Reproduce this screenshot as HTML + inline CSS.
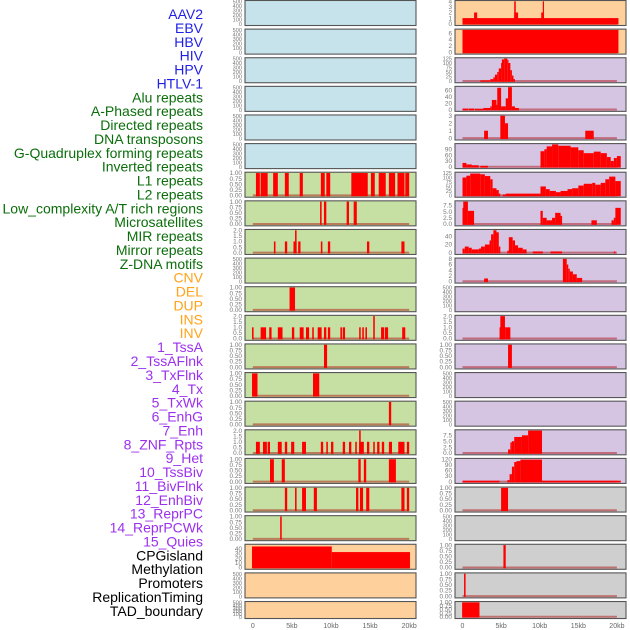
<!DOCTYPE html>
<html><head><meta charset="utf-8"><style>
body{margin:0;background:#fff;width:630px;height:630px;overflow:hidden}
svg{display:block}
</style></head><body>
<svg id="chart" width="630" height="630" xmlns="http://www.w3.org/2000/svg" font-family="Liberation Sans, sans-serif"></svg>
<script>
const labelNames=["AAV2","EBV","HBV","HIV","HPV","HTLV-1","Alu repeats","A-Phased repeats","Directed repeats","DNA transposons","G-Quadruplex forming repeats","Inverted repeats","L1 repeats","L2 repeats","Low_complexity A/T rich regions","Microsatellites","MIR repeats","Mirror repeats","Z-DNA motifs","CNV","DEL","DUP","INS","INV","1_TssA","2_TssAFlnk","3_TxFlnk","4_Tx","5_TxWk","6_EnhG","7_Enh","8_ZNF_Rpts","9_Het","10_TssBiv","11_BivFlnk","12_EnhBiv","13_ReprPC","14_ReprPCWk","15_Quies","CPGisland","Methylation","Promoters","ReplicationTiming","TAD_boundary"];
const labelGroups=["v","v","v","v","v","v","r","r","r","r","r","r","r","r","r","r","r","r","r","s","s","s","s","s","c","c","c","c","c","c","c","c","c","c","c","c","c","c","c","o","o","o","o","o"];
const xTickValues=[0,5,10,15,20];
const xTickLabels=["0","5kb","10kb","15kb","20kb"];
// segments: [startKb, endKb, value]
const L6=[[0.4,0.9,1],[1.0,1.9,1],[2.6,3.2,1],[4.1,4.6,1],[6.0,6.4,1],[8.7,9.2,1],[9.4,9.9,1],[12.6,14.7,1],[15.1,15.6,1],[16.1,17.0,1],[17.4,18.2,1],[18.5,19.4,1],[19.5,20.0,1]];
const L7=[[8.6,8.8,1],[9.1,9.4,1],[12.0,12.3,1],[12.9,13.3,1]];
const L8=[[2.7,2.9,1],[4.1,4.4,1],[5.2,5.6,1],[5.4,5.6,2],[5.8,6.1,1],[8.7,8.9,1],[9.6,9.9,1],[14.6,14.9,1],[19.0,19.4,1]];
const L10=[[4.7,5.4,1]];
const L11=[[-0.1,0.1,1],[1.0,1.7,1],[2.1,2.4,1],[3.2,3.8,1],[5.0,5.3,1],[6.0,6.5,1],[6.8,7.2,1],[7.6,7.8,1],[8.3,8.8,1],[9.1,9.4,1],[9.6,9.9,1],[11.2,11.4,1],[11.5,11.8,1],[13.6,13.8,1],[14.0,14.2,1],[14.4,14.6,1],[15.4,15.6,2],[16.4,16.8,1],[16.9,17.3,1],[19.1,19.5,1]];
const L12=[[9.1,9.5,1]];
const L13=[[-0.1,0.6,1],[7.7,8.5,1]];
const L14=[[17.4,17.7,1]];
const L15=[[0.4,0.9,1],[1.3,1.8,1],[1.9,2.2,1],[3.2,3.7,1],[4.1,4.4,1],[4.9,5.3,1],[6.3,6.8,1],[8.7,9.0,1],[9.4,9.6,1],[10.0,10.3,1],[11.5,11.8,1],[12.3,12.6,1],[13.1,13.3,1],[13.6,14.2,1],[13.6,13.8,2],[14.6,14.9,1],[15.4,15.6,1],[15.9,16.2,1],[16.5,16.8,1],[17.4,17.8,1],[18.6,19.4,1],[19.7,20.0,1]];
const L16=[[2.2,2.7,1],[3.7,4.1,1],[13.5,13.8,1],[14.2,14.5,1],[17.4,18.3,1]];
const L17=[[4.1,4.4,1],[5.4,5.6,1],[6.3,6.8,1],[7.8,8.2,1],[13.2,13.5,1],[13.7,14.1,1],[14.5,14.9,1],[19.0,19.4,1],[19.7,20.0,1]];
const L18=[[3.5,3.7,1]];
const L19=[[-0.1,10.1,45],[10.1,20.1,33]];
const R0=[[0,20.2,1],[1.5,1.9,2],[6.7,7.2,2],[6.7,6.9,4],[10.2,10.5,2],[10.4,10.5,4]];
const R1=[[0,20.2,7]];
const R2=[[2.3,3.6,3],[3.6,4.0,10],[4.0,4.2,20],[4.2,4.5,35],[4.5,4.7,50],[4.7,5.0,70],[5.0,5.1,100],[5.1,5.4,120],[5.4,5.8,125],[5.8,5.9,118],[5.9,6.2,100],[6.2,6.4,60],[6.4,6.6,30],[6.6,6.8,10]];
const R3=[[0,0.7,3],[0.8,1.5,3],[1.6,2.7,2],[2.7,3.6,5],[3.6,3.8,10],[3.8,4.4,30],[4.4,4.5,15],[4.5,5.0,68],[5.0,5.6,10],[5.6,5.9,35],[5.9,6.4,70],[6.4,6.8,10],[6.8,7.3,5]];
const R4=[[2.8,3.3,1],[4.9,5.5,3],[5.5,5.9,2],[15.9,17.0,1]];
const R5=[[0,0.5,20],[0.5,1.2,12],[1.2,2.1,8],[2.3,3.3,5],[10.1,10.6,80],[10.6,10.9,90],[10.9,11.6,105],[11.6,12.4,115],[12.4,14.0,108],[14.0,15.0,100],[15.0,15.7,85],[15.7,17.0,70],[17.0,17.9,78],[17.9,18.7,70],[18.7,19.2,50],[19.2,19.6,30],[19.6,20.0,45],[20.0,20.5,55]];
const R6=[[0,0.5,100],[0.5,1.0,110],[1.0,2.3,122],[2.3,2.9,118],[2.9,3.6,108],[3.6,3.9,90],[3.9,4.4,40],[4.4,4.7,30],[4.7,4.9,10],[5.2,5.6,5],[5.6,10.1,10],[10.1,10.8,50],[10.8,11.3,35],[11.3,12.1,25],[12.1,12.7,18],[12.7,13.6,25],[13.6,14.2,35],[14.2,15.0,40],[15.0,15.7,55],[15.7,16.8,65],[16.8,17.2,70],[17.2,17.9,60],[17.9,18.5,70],[18.5,19.0,90],[19.0,19.8,105],[19.8,20.5,80]];
const R7=[[0,0.1,6.5],[0.1,0.7,9],[0.7,1.5,5.3],[10.1,10.4,5.3],[10.4,10.9,2.5],[10.9,11.6,1.5],[11.6,12.0,2.5],[12.0,12.7,4.5],[12.7,12.9,3.3],[16.7,17.4,1.5],[19.3,19.6,1.5],[19.6,19.8,2.5],[19.8,20.5,6.5]];
const R8=[[0,0.3,10],[0.3,0.8,15],[0.8,1.2,12],[1.2,2.1,8],[2.1,2.4,10],[2.4,2.9,15],[2.9,3.5,20],[3.5,3.7,30],[3.7,4.0,45],[4.0,4.4,55],[4.4,4.7,50],[4.7,4.9,15],[5.8,6.0,5],[6.0,6.5,38],[6.5,6.8,30],[6.8,7.2,18],[7.2,7.8,12],[7.8,8.3,8],[9.1,10.4,3],[11.4,12.9,3],[19.6,19.8,3]];
const R9=[[2.8,3.3,1],[13.0,13.5,8],[13.5,13.7,6],[13.7,13.9,4.5],[13.9,14.3,3.5],[14.3,14.8,2.5],[14.8,15.5,1.2]];
const R11=[[4.8,5.6,1],[4.9,5.5,2],[5.6,6.2,1]];
const R12=[[5.9,6.4,1]];
const R15=[[5.9,6.2,1.5],[6.2,6.4,4.5],[6.4,6.7,5],[6.7,7.7,6.8],[7.7,8.5,7.5],[8.5,10.3,9.5]];
const R16=[[0,4.8,5],[5.8,6.1,8],[6.1,6.4,40],[6.4,6.7,80],[6.7,7.0,105],[7.0,7.5,110],[7.5,10.3,118],[10.3,20.5,5]];
const R17=[[5.0,5.9,1]];
const R19=[[5.3,5.6,1]];
const R20=[[0.2,0.4,1]];
const R21=[[-0.05,2.2,1]];
const tEmpty=[0,100,200,300,400,500], tBin=[0,0.25,0.5,0.75,1], t2=[0,0.5,1,1.5,2];
const tR0=[0,1,2,3,4], tR1=[0,2,4,6], t125=[0,25,50,75,100,125], tR3=[0,20,40,60], tR4=[0,1,2,3], tR5=[0,30,60,90], t75=[0,2.5,5,7.5], tR8=[0,20,40], tR9=[0,2,4,6,8], tR16=[0,30,60,90,120], tL19=[0,10,20,30,40];

const B="#c6e3ec",G="#c6e0a4",P="#fdd09c",V="#d5c5e3",Y="#cfcfcf";
const leftPanels=[[null,500,tEmpty,B],[null,500,tEmpty,B],[null,500,tEmpty,B],[null,500,tEmpty,B],[null,500,tEmpty,B],[null,500,tEmpty,B],
[L6,1,tBin,G,2],[L7,1,tBin,G,2],[L8,2,t2,G,1],[null,500,tEmpty,G],[L10,1,tBin,G,2],[L11,2,t2,G,1],[L12,1,tBin,G,2],[L13,1,tBin,G,2],[L14,1,tBin,G,2],[L15,2,t2,G,1],[L16,1,tBin,G,2],[L17,1,tBin,G,2],[L18,1,tBin,G,2],[L19,48,tL19,P],[null,500,tEmpty,P],[null,500,tEmpty,P]];
const rightPanels=[[R0,4,tR0,P],[R1,7,tR1,P],[R2,125,t125,V],[R3,70,tR3,V],[R4,3,tR4,V],[R5,115,tR5,V],[R6,125,t125,V],[R7,9,t75,V,1],[R8,55,tR8,V],[R9,8,tR9,V],[null,500,tEmpty,V],[R11,2,t2,V,1],[R12,1,tBin,V,2],[null,500,tEmpty,V],[null,500,tEmpty,V],[R15,9.5,t75,V,1],[R16,120,tR16,V],[R17,1,tBin,Y,2],[null,500,tEmpty,Y],[R19,1,tBin,Y,2],[R20,1,tBin,Y,2],[R21,1,tBin,Y,2]];

const NS="http://www.w3.org/2000/svg";
const svg=document.getElementById('chart');
function mk(tag,attrs,parent){const e=document.createElementNS(NS,tag);for(const k in attrs)e.setAttribute(k,attrs[k]);(parent||svg).appendChild(e);return e;}
const colors={v:"#1f1fe6",r:"#0b6e0b",s:"#ffa31a",c:"#9b30ee",o:"#000"};
labelNames.forEach((n,i)=>{
  const t=mk('text',{x:203,y:14+i*13.88+5,'text-anchor':'end','font-size':'14',fill:colors[labelGroups[i]]});
  
  
  t.textContent=n;
});
function rowTop(i){return i*28.62;}
function drawPanel(p,i,side){
  const [segs,ymax,ticks,bg,fmt]=p;
  const L=side==='left'?245:455, R=side==='left'?416:626, x0=side==='left'?252.8:462.5, k=side==='left'?7.82:7.72;
  const T=rowTop(i)+0.5, H=(i===21?17:25);
  const yb=T+H-1.8, yt=T+0.8;
  const xs=v=>x0+v*k, ys=v=>yb-(yb-yt)*v/ymax;
  const g=mk('g',{});
  
  
  const r=mk('rect',{x:L,y:T,width:R-L,height:H,fill:bg},g);
  
  
  if(segs){
    const bl=mk('line',{x1:xs(0),x2:xs(20),y1:yb,y2:yb,stroke:'rgba(170,0,0,0.45)','stroke-width':2},g);
    
    
    segs.forEach(s=>{
      const b=mk('rect',{x:xs(s[0]),y:ys(Math.min(s[2],ymax)),width:Math.max(xs(s[1])-xs(s[0]),1.2),height:yb-ys(Math.min(s[2],ymax))+0.8,fill:'#ff0000'},g);
      
      
    });
  }
  const bd=mk('rect',{x:L,y:T,width:R-L,height:H,fill:'none',stroke:'#555','stroke-width':1.1},g);
  
  
  const fs=ticks.length>5?5.6:6.4;
  ticks.forEach(tv=>{
    const t=mk('text',{x:L-3,y:ys(tv)+2.2,'text-anchor':'end','font-size':fs,fill:'#777'},g);
    
    
    t.textContent=fmt?tv.toFixed(fmt):String(tv);
  });
}
leftPanels.forEach((p,i)=>drawPanel(p,i,'left'));
rightPanels.forEach((p,i)=>drawPanel(p,i,'right'));
[['left',252.8,7.82],['right',462.5,7.72]].forEach(([side,x0,k])=>{
  xTickValues.forEach((v,j)=>{
    const t=mk('text',{x:x0+v*k,y:628,'text-anchor':'middle','font-size':'7',fill:'#666'});
    
    
    t.textContent=xTickLabels[j];
  });
});
</script>
</body></html>
